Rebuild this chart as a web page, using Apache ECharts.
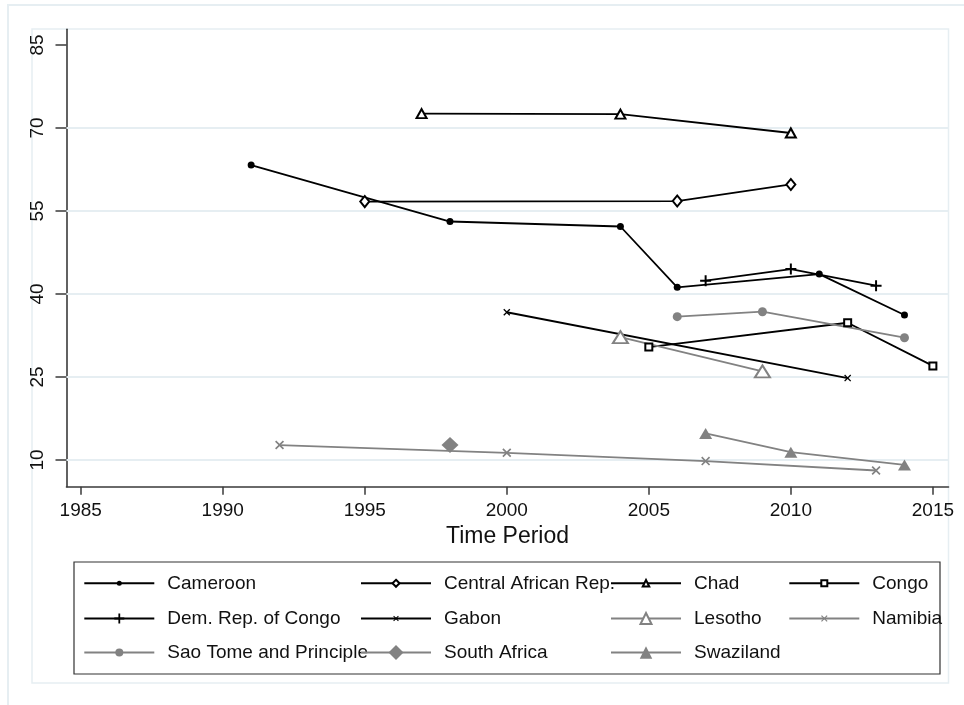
<!DOCTYPE html>
<html><head><meta charset="utf-8">
<script src="https://cdn.jsdelivr.net/npm/echarts@6/dist/echarts.min.js"></script>
<style>html,body{margin:0;padding:0;background:#fff;} #c{width:964px;height:705px;}</style>
</head><body><div id="c"></div>
<script>
// ---- data ----
const countries = ['Cameroon', 'Central African Rep.', 'Chad', 'Congo', 'Dem. Rep. of Congo', 'Gabon', 'Lesotho', 'Namibia', 'Sao Tome and Principle', 'South Africa', 'Swaziland'];
const cameroonYears = [1991, 1998, 2004, 2006, 2011, 2014];
const cameroonValues = [63.3, 53.1, 52.2, 41.2, 43.6, 36.2];
const carYears = [1995, 2006, 2010];
const carValues = [56.7, 56.8, 59.8];
const chadYears = [1997, 2004, 2010];
const chadValues = [72.6, 72.5, 69.1];
const congoYears = [2005, 2012, 2015];
const congoValues = [30.4, 34.8, 27.0];
const drcYears = [2007, 2010, 2013];
const drcValues = [42.4, 44.5, 41.5];
const gabonYears = [2000, 2012];
const gabonValues = [36.7, 24.8];
const lesothoYears = [2004, 2009];
const lesothoValues = [32.2, 26.0];
const namibiaYears = [1992, 2000, 2007, 2013];
const namibiaValues = [12.7, 11.3, 9.8, 8.1];
const saoTomeYears = [2006, 2009, 2014];
const saoTomeValues = [35.9, 36.8, 32.1];
const southAfricaYears = [1998];
const southAfricaValues = [12.7];
const swazilandYears = [2007, 2010, 2014];
const swazilandValues = [14.8, 11.4, 9.1];
const xTickLabels = [1985, 1990, 1995, 2000, 2005, 2010, 2015];
const yTickLabels = [10, 25, 40, 55, 70, 85];
const yGridValues = [10, 25, 40, 55, 70];

const seriesYears = [cameroonYears, carYears, chadYears, congoYears, drcYears, gabonYears, lesothoYears, namibiaYears, saoTomeYears, southAfricaYears, swazilandYears];
const seriesValues = [cameroonValues, carValues, chadValues, congoValues, drcValues, gabonValues, lesothoValues, namibiaValues, saoTomeValues, southAfricaValues, swazilandValues];

// ---- styles ----
const BLACK = '#000000', GRAY = '#828282';
const PLUS = 'path://M4.1,0H5.9V4.1H10V5.9H5.9V10H4.1V5.9H0V4.1H4.1Z';
const CROSS = 'path://M0,1.3L1.3,0L5,3.7L8.7,0L10,1.3L6.3,5L10,8.7L8.7,10L5,6.3L1.3,10L0,8.7L3.7,5Z';
const styles = [
  {color: BLACK, symbol: 'circle', size: 7, leg: 5},
  {color: BLACK, symbol: 'emptyDiamond', size: [9, 11], leg: 7},
  {color: BLACK, symbol: 'emptyTriangle', size: [10, 9], leg: 6.5},
  {color: BLACK, symbol: 'emptyRect', size: 7, leg: 6},
  {color: BLACK, symbol: PLUS, size: 11, leg: 10},
  {color: BLACK, symbol: CROSS, size: 7, leg: 5.5},
  {color: GRAY, symbol: 'emptyTriangle', size: [15, 12], leg: 11},
  {color: GRAY, symbol: CROSS, size: 9, leg: 6.5},
  {color: GRAY, symbol: 'circle', size: 9, leg: 8},
  {color: GRAY, symbol: 'diamond', size: [17, 16], leg: 15},
  {color: GRAY, symbol: 'triangle', size: [13, 11], leg: 12.5}
];
const FONT = 'Liberation Sans, Arial, sans-serif';
const TXT = '#111111';

const series = countries.map((name, i) => ({
  name: name,
  type: 'line',
  z: 3,
  data: seriesYears[i].map((y, j) => [y, seriesValues[i][j]]),
  symbol: styles[i].symbol,
  symbolSize: styles[i].size,
  showSymbol: true,
  showAllSymbol: true,
  color: styles[i].color,
  itemStyle: {color: styles[i].color, borderWidth: 1.5},
  lineStyle: {color: styles[i].color, width: 1.8},
  emphasis: {disabled: true}
}));
series.unshift({
  name: '__grid', type: 'line', data: [], z: 1, silent: true,
  markLine: {
    silent: true, symbol: 'none', z: 1, animation: false,
    label: {show: false},
    lineStyle: {color: '#e6eef2', width: 2, type: 'solid'},
    emphasis: {disabled: true},
    data: yGridValues.map(v => ({yAxis: v}))
  }
});

// legend layout (4 columns x 3 rows)
const colX = [83.3, 360, 610, 788.3];
const rowY = [583.3, 618.5, 652.5];
const TEXT_H = 19;
const legends = countries.map((name, i) => {
  const h = styles[i].leg / 0.8;
  return {
    data: [name], left: colX[i % 4], top: rowY[Math.floor(i / 4)] - Math.max(h, TEXT_H) / 2,
    itemWidth: 70, itemHeight: h, padding: 0, itemGap: 0, selectedMode: false,
    textStyle: {fontSize: 19, fontFamily: FONT, color: TXT, padding: [0, 0, 0, 8]}
  };
});

const chart = echarts.init(document.getElementById('c'), null, {renderer: 'canvas'});
chart.setOption({
  animation: false,
  backgroundColor: '#ffffff',
  textStyle: {fontFamily: FONT},
  graphic: [
    {type: 'rect', z: -10, shape: {x: 8, y: 5, width: 1000, height: 800}, style: {fill: 'none', stroke: '#e6eef2', lineWidth: 2}},
    {type: 'rect', z: -10, shape: {x: 32, y: 29, width: 916.5, height: 654}, style: {fill: 'none', stroke: '#e6eef2', lineWidth: 1.5}},
    {type: 'rect', z: 0, shape: {x: 74, y: 562, width: 866, height: 112}, style: {fill: 'none', stroke: '#333333', lineWidth: 1.2}}
  ],
  grid: {left: 66.5, right: 15.5, top: 29.3, bottom: 218.3, containLabel: false},
  xAxis: {
    type: 'value', min: 1984.5, max: 2015.55,
    name: 'Time Period', nameLocation: 'middle', nameGap: 35,
    nameTextStyle: {fontSize: 23, color: TXT, fontFamily: FONT},
    axisLine: {show: true, lineStyle: {color: '#3a3a3a', width: 1.6}},
    axisTick: {show: true, length: 8, customValues: xTickLabels, lineStyle: {color: '#3a3a3a', width: 1.5}},
    axisLabel: {show: true, customValues: xTickLabels, formatter: v => String(v), fontSize: 19, color: TXT, margin: 15, fontFamily: FONT},
    splitLine: {show: false}
  },
  yAxis: {
    type: 'value', min: 5.17, max: 87.84,
    axisLine: {show: true, lineStyle: {color: '#3a3a3a', width: 1.6}},
    axisTick: {show: true, length: 11, customValues: yTickLabels, lineStyle: {color: '#3a3a3a', width: 1.5}},
    axisLabel: {show: true, customValues: yTickLabels, formatter: v => String(v), rotate: 90, fontSize: 19, color: TXT, margin: 19, fontFamily: FONT},
    splitLine: {show: false}
  },
  legend: legends,
  series: series
});
</script></body></html>
